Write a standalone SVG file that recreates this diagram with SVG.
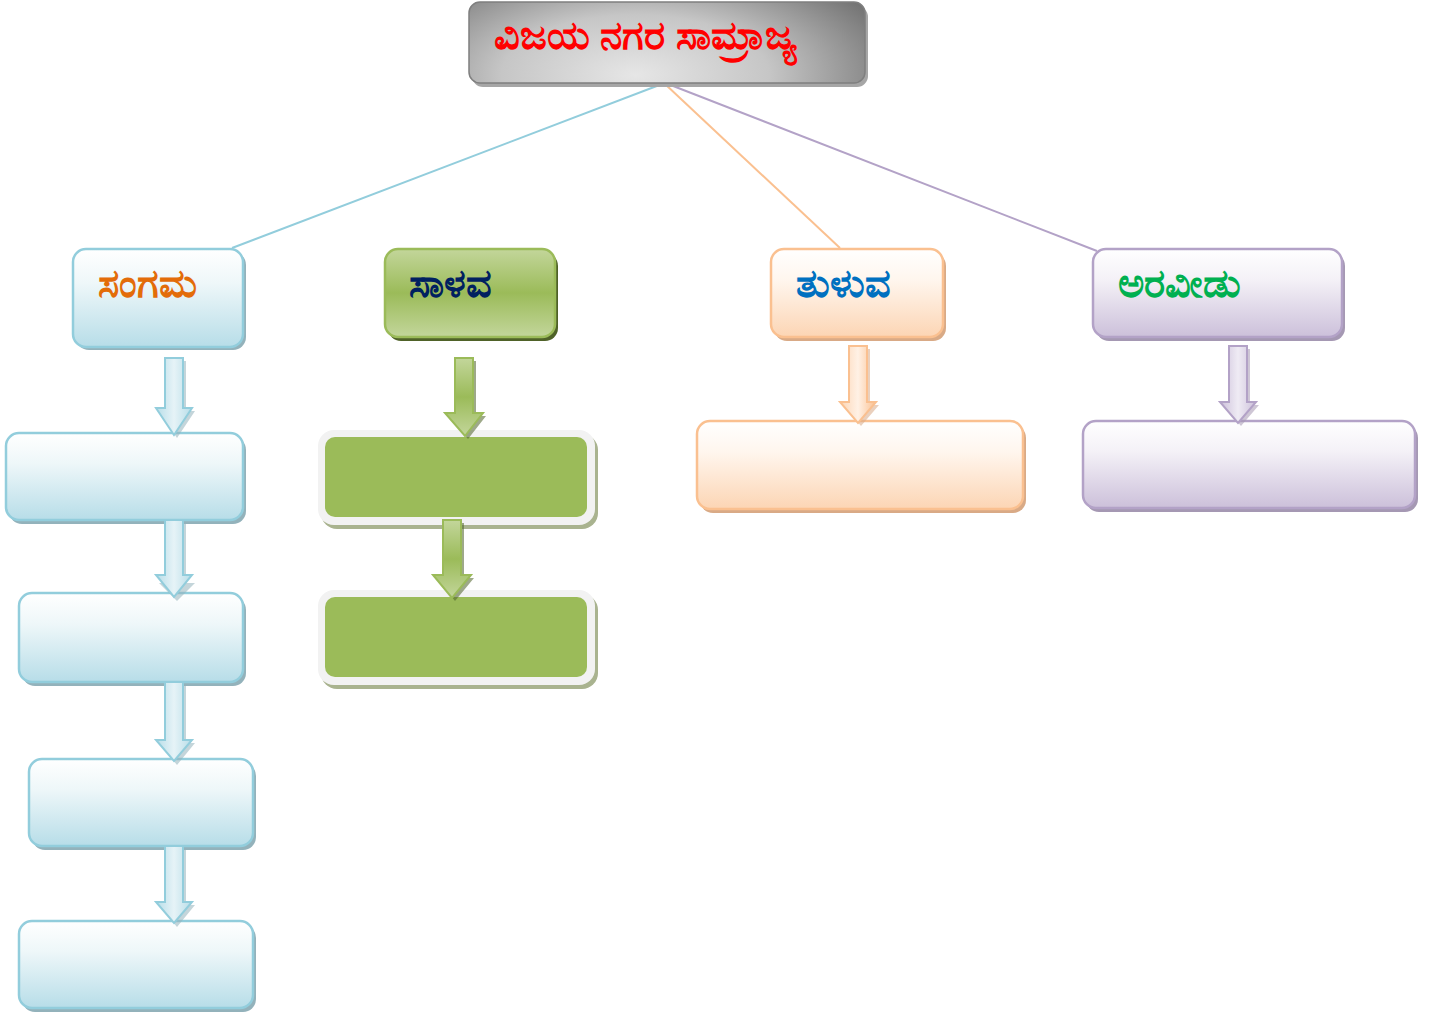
<svg xmlns="http://www.w3.org/2000/svg" width="1441" height="1015" viewBox="0 0 1441 1015">
<defs>
<radialGradient id="gTitle" cx="0.42" cy="0.9" r="0.75" gradientTransform="translate(0.42 0.9) scale(1 2.2) translate(-0.42 -0.9)">
<stop offset="0" stop-color="#e6e6e6"/><stop offset="0.45" stop-color="#c6c6c6"/><stop offset="1" stop-color="#666666"/>
</radialGradient>
<linearGradient id="gBlue" x1="0" y1="0" x2="0" y2="1"><stop offset="0" stop-color="#ffffff"/><stop offset="0.35" stop-color="#eef7f9"/><stop offset="1" stop-color="#b7dde8"/></linearGradient>
<linearGradient id="gOrange" x1="0" y1="0" x2="0" y2="1"><stop offset="0" stop-color="#ffffff"/><stop offset="0.35" stop-color="#fff6ee"/><stop offset="1" stop-color="#fcd5b4"/></linearGradient>
<linearGradient id="gPurple" x1="0" y1="0" x2="0" y2="1"><stop offset="0" stop-color="#ffffff"/><stop offset="0.35" stop-color="#f4f1f7"/><stop offset="1" stop-color="#ccc0da"/></linearGradient>
<linearGradient id="gGreen" x1="0" y1="0" x2="0" y2="1"><stop offset="0" stop-color="#c3d69b"/><stop offset="0.5" stop-color="#9bbb59"/><stop offset="1" stop-color="#c3d69b"/></linearGradient>
<linearGradient id="aBlue" x1="0" y1="0" x2="1" y2="0"><stop offset="0" stop-color="#b7dde8"/><stop offset="0.5" stop-color="#e6f3f7"/><stop offset="1" stop-color="#b7dde8"/></linearGradient>
<linearGradient id="aGreen" x1="0" y1="0" x2="0" y2="1"><stop offset="0" stop-color="#c3d69b"/><stop offset="0.5" stop-color="#9bbb59"/><stop offset="1" stop-color="#c3d69b"/></linearGradient>
<linearGradient id="aOrange" x1="0" y1="0" x2="1" y2="0"><stop offset="0" stop-color="#fcd5b4"/><stop offset="0.5" stop-color="#fff1e5"/><stop offset="1" stop-color="#fac090"/></linearGradient>
<linearGradient id="aPurple" x1="0" y1="0" x2="1" y2="0"><stop offset="0" stop-color="#ccc0da"/><stop offset="0.5" stop-color="#efebf4"/><stop offset="1" stop-color="#ccc0da"/></linearGradient>
</defs>
<style>
.lbl{font-family:"Noto Sans","DejaVu Sans",sans-serif;font-size:40px;font-weight:bold}
.blue{fill:url(#gBlue);stroke:#92cddc;stroke-width:2.5}
.blueS{fill:#93b2bb}
.orange{fill:url(#gOrange);stroke:#fac090;stroke-width:2.5}
.orangeS{fill:#d9aa86}
.purple{fill:url(#gPurple);stroke:#b3a2c7;stroke-width:2.5}
.purpleS{fill:#a598b3}
.green{fill:url(#gGreen);stroke:#9bbb59;stroke-width:2.5}
.greenS{fill:#4f6228}
.gframe{fill:#f2f2f2}
.gframeS{fill:#a9b38f}
.ginner{fill:#9bbb59}
.ln{fill:none;stroke-width:2}
.arB{fill:url(#aBlue);stroke:#92cddc;stroke-width:2}
.arG{fill:url(#aGreen);stroke:#9bbb59;stroke-width:2}
.arO{fill:url(#aOrange);stroke:#fac090;stroke-width:2}
.arP{fill:url(#aPurple);stroke:#b3a2c7;stroke-width:2}
.arS{opacity:0.55}
</style>
<rect width="1441" height="1015" fill="#ffffff"/>

<g id="connectors">
<line class="ln" x1="662" y1="84" x2="232" y2="248" stroke="#92cddc"/>
<line class="ln" x1="665" y1="84" x2="840" y2="248" stroke="#fac090"/>
<line class="ln" x1="668" y1="84" x2="1097" y2="251" stroke="#b3a2c7"/>
</g>

<g id="title">
<rect x="472" y="6" width="396" height="81" rx="11" fill="#a6a6a6"/>
<rect x="469" y="2" width="396" height="81" rx="11" fill="url(#gTitle)" stroke="#7f7f7f" stroke-width="1.5"/>
<text class="lbl" x="494" y="49" fill="#ff0000">ವಿಜಯ ನಗರ ಸಾಮ್ರಾಜ್ಯ</text>
</g>

<g id="sangama">
<rect x="76" y="252" width="170" height="98" rx="13" class="blueS"/>
<rect x="73" y="249" width="170" height="98" rx="13" class="blue"/>
<text class="lbl" x="98" y="297" fill="#e36c09">ಸಂಗಮ</text>
</g>

<g id="saluva">
<rect x="388" y="253" width="170" height="88" rx="13" class="greenS"/>
<rect x="385" y="249" width="170" height="88" rx="13" class="green"/>
<text class="lbl" x="409" y="297" fill="#002060">ಸಾಳವ</text>
</g>

<g id="tuluva">
<rect x="774" y="253" width="172" height="88" rx="13" class="orangeS"/>
<rect x="771" y="249" width="172" height="88" rx="13" class="orange"/>
<text class="lbl" x="796" y="297" fill="#0070c0">ತುಳುವ</text>
</g>

<g id="aravidu">
<rect x="1096" y="253" width="249" height="88" rx="13" class="purpleS"/>
<rect x="1093" y="249" width="249" height="88" rx="13" class="purple"/>
<text class="lbl" x="1118" y="297" fill="#00b050">ಅರವೀಡು</text>
</g>

<g id="sangama-1">
<rect x="9" y="437" width="237" height="87" rx="13" class="blueS"/>
<rect x="6" y="433" width="237" height="87" rx="13" class="blue"/>
</g>
<g id="sangama-2">
<rect x="22" y="597" width="224" height="89" rx="13" class="blueS"/>
<rect x="19" y="593" width="224" height="89" rx="13" class="blue"/>
</g>
<g id="sangama-3">
<rect x="32" y="763" width="224" height="87" rx="13" class="blueS"/>
<rect x="29" y="759" width="224" height="87" rx="13" class="blue"/>
</g>
<g id="sangama-4">
<rect x="22" y="925" width="234" height="87" rx="13" class="blueS"/>
<rect x="19" y="921" width="234" height="87" rx="13" class="blue"/>
</g>

<g id="saluva-1">
<rect x="321" y="434" width="277" height="95" rx="16" class="gframeS"/>
<rect x="318" y="430" width="277" height="95" rx="16" class="gframe"/>
<rect x="325" y="437" width="262" height="80" rx="10" class="ginner"/>
</g>
<g id="saluva-2">
<rect x="321" y="594" width="277" height="95" rx="16" class="gframeS"/>
<rect x="318" y="590" width="277" height="95" rx="16" class="gframe"/>
<rect x="325" y="597" width="262" height="80" rx="10" class="ginner"/>
</g>

<g id="tuluva-1">
<rect x="700" y="425" width="326" height="88" rx="13" class="orangeS"/>
<rect x="697" y="421" width="326" height="88" rx="13" class="orange"/>
</g>

<g id="aravidu-1">
<rect x="1086" y="425" width="332" height="87" rx="13" class="purpleS"/>
<rect x="1083" y="421" width="332" height="87" rx="13" class="purple"/>
</g>

<g id="arrows">
<path class="blueS arS" d="M168,361 H186 V411 H195 L177,438 L159,411 H168 Z"/>
<path class="arB" d="M165,358 H183 V408 H192 L174,435 L156,408 H165 Z"/>
<path class="blueS arS" d="M168,523 H186 V583 H195 L177,601 L159,583 H168 Z"/>
<path class="arB" d="M165,520 H183 V575 H192 L174,597 L156,575 H165 Z"/>
<path class="blueS arS" d="M168,685 H186 V743 H195 L177,765 L159,743 H168 Z"/>
<path class="arB" d="M165,682 H183 V740 H192 L174,761 L156,740 H165 Z"/>
<path class="blueS arS" d="M168,849 H186 V905 H195 L177,927 L159,905 H168 Z"/>
<path class="arB" d="M165,846 H183 V902 H192 L174,923 L156,902 H165 Z"/>
<path class="greenS arS" d="M458,361 H476 V416 H486 L468,439 L448,416 H458 Z"/>
<path class="arG" d="M455,358 H473 V413 H483 L465,436 L445,413 H455 Z"/>
<path class="greenS arS" d="M446,523 H464 V578 H474 L455,601 L436,578 H446 Z"/>
<path class="arG" d="M443,520 H461 V575 H471 L452,598 L433,575 H443 Z"/>
<path class="orangeS arS" d="M852,349 H870 V405 H879 L861,426 L843,405 H852 Z"/>
<path class="arO" d="M849,346 H867 V402 H876 L858,423 L840,402 H849 Z"/>
<path class="purpleS arS" d="M1232,349 H1250 V405 H1259 L1241,426 L1223,405 H1232 Z"/>
<path class="arP" d="M1229,346 H1247 V402 H1256 L1238,423 L1220,402 H1229 Z"/>
</g>
</svg>
